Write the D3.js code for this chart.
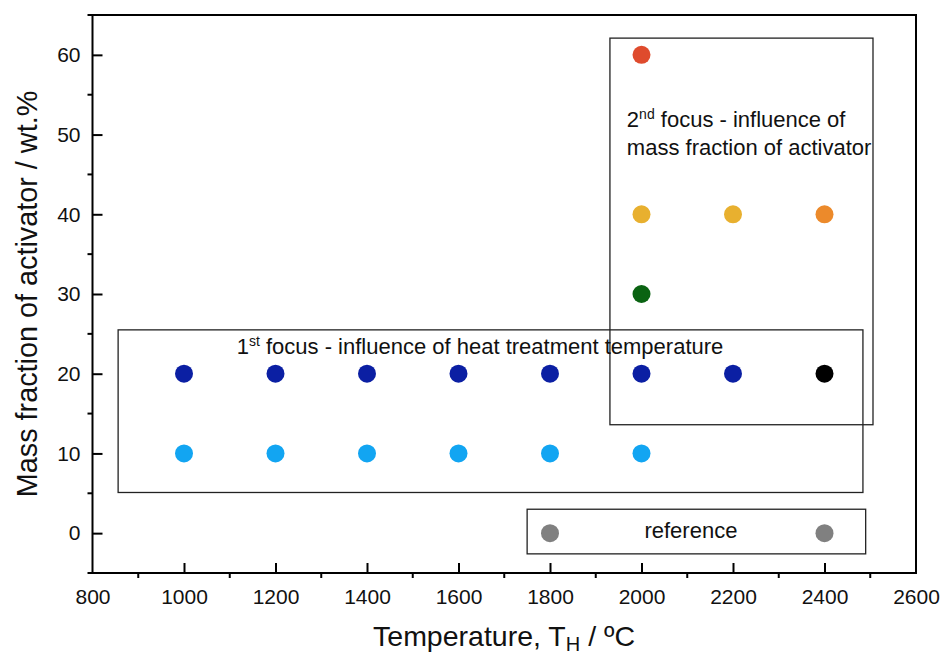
<!DOCTYPE html>
<html>
<head>
<meta charset="utf-8">
<script src="https://cdn.jsdelivr.net/npm/d3@7"></script>
<style>
  html, body { margin: 0; padding: 0; background: #fff; }
  svg { display: block; font-family: "Liberation Sans", Arial, sans-serif; }
</style>
</head>
<body>
<svg id="chart" width="943" height="655"></svg>
<script>
// ---- data ----
const seriesNames = ["1st focus 10 wt.%", "1st focus 20 wt.%", "20 wt.% at 2400", "30 wt.%", "40 wt.%", "40 wt.% at 2400", "60 wt.%", "reference"];
const seriesTemps = [
  [1000, 1200, 1400, 1600, 1800, 2000],
  [1000, 1200, 1400, 1600, 1800, 2000, 2200],
  [2400],
  [2000],
  [2000, 2200],
  [2400],
  [2000],
  [1800, 2400]
];
const seriesMass = [
  [10, 10, 10, 10, 10, 10],
  [20, 20, 20, 20, 20, 20, 20],
  [20],
  [30],
  [40, 40],
  [40],
  [60],
  [0, 0]
];
const seriesColors = ["#12a5f2", "#0b1fa3", "#000000", "#0a6312", "#e8b02f", "#ec8a2b", "#df4b2d", "#808080"];

const xTicks = [800, 1000, 1200, 1400, 1600, 1800, 2000, 2200, 2400, 2600];
const yTicks = [0, 10, 20, 30, 40, 50, 60];
const xMinor = [900, 1100, 1300, 1500, 1700, 1900, 2100, 2300, 2500];
const yMinor = [-5, 5, 15, 25, 35, 45, 55, 65];

// annotation boxes in data units: [x0, x1, y0, y1]
const boxes = [
  [856, 2484, 5.1, 25.5],
  [1931, 2506, 13.6, 62.1],
  [1750, 2490, -2.6, 3.0]
];

const xTitle = ["Temperature, T", "H", " / ºC"];
const yTitle = "Mass fraction of activator / wt.%";

// ---- layout ----
const svg = d3.select("#chart");
const pLeft = 92.5, pRight = 916, pTop = 15, pBottom = 573;
const x = d3.scaleLinear().domain([800, 2600]).range([pLeft, pRight]);
const y = d3.scaleLinear().domain([-5, 65]).range([pBottom, pTop]);

// annotation boxes
svg.append("g").selectAll("rect").data(boxes).join("rect")
  .attr("x", d => x(d[0])).attr("y", d => y(d[3]))
  .attr("width", d => x(d[1]) - x(d[0])).attr("height", d => y(d[2]) - y(d[3]))
  .attr("fill", "none").attr("stroke", "#222").attr("stroke-width", 1.3);

// frame
svg.append("rect").attr("x", pLeft).attr("y", pTop)
  .attr("width", pRight - pLeft).attr("height", pBottom - pTop)
  .attr("fill", "none").attr("stroke", "#000").attr("stroke-width", 2);

// x axis (major ticks inward, minor outward)
const gx = svg.append("g").attr("transform", `translate(0,${pBottom})`)
  .call(d3.axisBottom(x).tickValues(xTicks).tickSize(-10).tickPadding(16).tickFormat(d3.format("d")));
gx.select(".domain").remove();
gx.selectAll(".tick line").attr("stroke-width", 2);
gx.selectAll(".tick text").attr("font-size", 21).attr("font-family", "Liberation Sans, Arial, sans-serif").attr("fill", "#111");
gx.selectAll(".tick").filter(d => d === 800 || d === 2600).select("line").remove();
svg.append("g").selectAll("line").data(xMinor).join("line")
  .attr("x1", d => x(d)).attr("x2", d => x(d)).attr("y1", pBottom).attr("y2", pBottom + 5)
  .attr("stroke", "#000").attr("stroke-width", 2);

// y axis
const gy = svg.append("g").attr("transform", `translate(${pLeft},0)`)
  .call(d3.axisLeft(y).tickValues(yTicks).tickSize(-10).tickPadding(12).tickFormat(d3.format("d")));
gy.select(".domain").remove();
gy.selectAll(".tick line").attr("stroke-width", 2);
gy.selectAll(".tick text").attr("font-size", 21).attr("font-family", "Liberation Sans, Arial, sans-serif").attr("fill", "#111");
svg.append("g").selectAll("line").data(yMinor).join("line")
  .attr("x1", pLeft - 5).attr("x2", pLeft).attr("y1", d => y(d)).attr("y2", d => y(d))
  .attr("stroke", "#000").attr("stroke-width", 2);

// points
const pts = [];
seriesTemps.forEach((ts, i) => ts.forEach((t, j) => pts.push({ t, m: seriesMass[i][j], c: seriesColors[i] })));
svg.append("g").selectAll("circle").data(pts).join("circle")
  .attr("cx", d => x(d.t)).attr("cy", d => y(d.m)).attr("r", 9)
  .attr("fill", d => d.c);

// annotation texts
const ann = svg.append("g").attr("font-size", 22).attr("fill", "#111");
const t1 = ann.append("text").attr("x", x(1647)).attr("y", y(22.47)).attr("text-anchor", "middle");
t1.append("tspan").text("1");
t1.append("tspan").attr("font-size", 14).attr("dy", -8).text("st");
t1.append("tspan").attr("dy", 8).text(" focus - influence of heat treatment temperature");

const t2 = ann.append("text").attr("x", x(1968)).attr("y", y(50.9));
t2.append("tspan").text("2");
t2.append("tspan").attr("font-size", 14).attr("dy", -8).text("nd");
t2.append("tspan").attr("dy", 8).text(" focus - influence of");
ann.append("text").attr("x", x(1968)).attr("y", y(47.4)).text("mass fraction of activator");

ann.append("text").attr("x", x(2108)).attr("y", y(-0.6)).attr("text-anchor", "middle").text("reference");

// axis titles
const xt = svg.append("text").attr("x", 504).attr("y", 646).attr("text-anchor", "middle")
  .attr("font-size", 28.5).attr("fill", "#111");
xt.append("tspan").text(xTitle[0]);
xt.append("tspan").attr("font-size", 20).attr("dy", 5).text(xTitle[1]);
xt.append("tspan").attr("dy", -5).text(xTitle[2]);

svg.append("text").attr("transform", "translate(37,294) rotate(-90)")
  .attr("text-anchor", "middle").attr("font-size", 28.8).attr("fill", "#111").text(yTitle);
</script>
</body>
</html>
